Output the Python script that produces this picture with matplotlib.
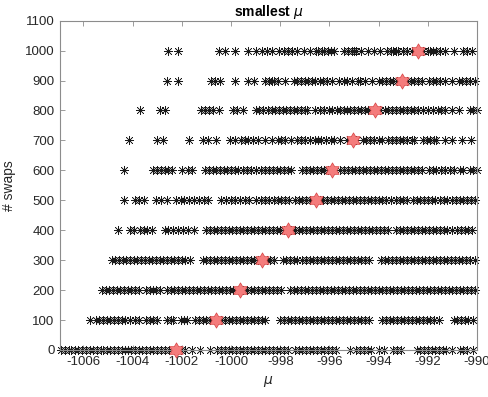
import numpy as np
import matplotlib
matplotlib.use('Agg')
import matplotlib.pyplot as plt
from matplotlib.path import Path

plt.rcParams['font.family'] = ['Liberation Sans', 'DejaVu Sans']
plt.rcParams['axes.unicode_minus'] = False

swaps = [0, 100, 200, 300, 400, 500, 600, 700, 800, 900, 1000]

# mu values found for each swap count
mu_0 = [-1006.9, -1006.75, -1006.6, -1006.5, -1006.35, -1006.2, -1006.05, -1005.9, -1005.75, -1005.6,
        -1005.45, -1005.3, -1005.2, -1005.05, -1004.9, -1004.75, -1004.6, -1004.45, -1004.3, -1004.2,
        -1004.05, -1003.9, -1003.75, -1003.6, -1003.45, -1003.3, -1003.15, -1003.0, -1002.85, -1002.7,
        -1002.5, -1002.05, -1001.85, -1001.6, -1001.25, -1000.85, -1000.55, -1000.4, -1000.25, -1000.1,
        -999.95, -999.8, -999.65, -999.5, -999.35, -999.2, -999.05, -998.9, -998.75, -998.6, -998.45,
        -998.3, -998.15, -998.0, -997.85, -997.7, -997.4, -997.25, -997.1, -996.95, -996.8, -996.65,
        -996.5, -996.35, -996.2, -996.05, -995.9, -995.75, -995.15, -994.9, -994.75, -994.6, -994.45,
        -994.3, -994.0, -993.8, -993.4, -993.25, -993.1, -992.45, -992.3, -992.15, -992.0, -991.85,
        -991.7, -991.55, -991.4, -991.25, -991.0, -990.7, -990.55, -990.4, -990.15]
mu_100 = [-1005.75, -1005.5, -1005.35, -1005.2, -1005.05, -1004.9, -1004.75, -1004.6, -1004.45, -1004.3,
          -1004.1, -1003.9, -1003.75, -1003.45, -1003.3, -1003.15, -1003.0, -1002.6, -1002.45, -1002.35,
          -1002.05, -1001.9, -1001.8, -1001.45, -1001.3, -1001.15, -1001.0, -1000.85, -1000.4, -1000.25,
          -1000.1, -999.95, -999.8, -999.65, -999.5, -999.35, -999.2, -999.05, -998.9, -998.75, -998.6,
          -998.0, -997.85, -997.7, -997.55, -997.4, -997.25, -997.1, -996.95, -996.8, -996.65, -996.5,
          -996.35, -996.2, -996.05, -995.9, -995.75, -995.6, -995.45, -995.3, -995.15, -995.0, -994.85,
          -994.7, -994.55, -994.4, -993.85, -993.7, -993.55, -993.4, -993.25, -993.1, -992.95, -992.8,
          -992.65, -992.5, -992.35, -992.2, -992.05, -991.9, -991.75, -991.55, -990.95, -990.8, -990.65,
          -990.5, -990.35, -990.15]
mu_200 = [-1005.25, -1005.1, -1004.95, -1004.8, -1004.65, -1004.5, -1004.35, -1004.2, -1004.05, -1003.9,
          -1003.75, -1003.45, -1003.3, -1003.15, -1003.05, -1002.9, -1002.6, -1002.45, -1002.3, -1002.15,
          -1002.0, -1001.85, -1001.7, -1001.55, -1001.4, -1001.25, -1001.1, -1000.95, -1000.8, -1000.65,
          -1000.5, -1000.35, -1000.2, -1000.05, -999.9, -999.5, -999.35, -999.2, -999.05, -998.9, -998.75,
          -998.6, -998.45, -998.3, -998.15, -997.95, -997.6, -997.45, -997.3, -997.15, -997.0, -996.85,
          -996.7, -996.55, -996.4, -996.25, -996.1, -995.95, -995.8, -995.65, -995.5, -995.35, -995.2,
          -995.05, -994.9, -994.75, -994.6, -994.45, -994.3, -994.15, -994.0, -993.85, -993.7, -993.55,
          -993.4, -993.25, -993.1, -992.95, -992.8, -992.65, -992.5, -992.35, -992.2, -992.05, -991.9,
          -991.75, -991.6, -991.45, -991.3, -991.15, -991.0, -990.85, -990.7, -990.55, -990.4, -990.25,
          -990.1]
mu_300 = [-1004.85, -1004.7, -1004.55, -1004.4, -1004.25, -1004.1, -1003.95, -1003.8, -1003.65, -1003.5,
          -1003.35, -1003.2, -1003.05, -1002.9, -1002.75, -1002.6, -1002.45, -1002.3, -1002.15, -1002.0,
          -1001.85, -1001.65, -1001.15, -1001.0, -1000.85, -1000.7, -1000.55, -1000.4, -1000.25, -1000.1,
          -999.95, -999.8, -999.65, -999.5, -999.35, -999.2, -999.05, -998.9, -998.55, -998.4, -998.25,
          -997.9, -997.75, -997.6, -997.45, -997.3, -997.1, -996.95, -996.8, -996.65, -996.5, -996.35,
          -996.2, -996.05, -995.9, -995.75, -995.6, -995.45, -995.3, -995.15, -995.0, -994.85, -994.7,
          -994.55, -994.4, -993.9, -993.75, -993.6, -993.45, -993.3, -993.15, -993.0, -992.85, -992.7,
          -992.55, -992.4, -992.25, -992.1, -991.95, -991.8, -991.65, -991.5, -991.35, -991.2, -991.05,
          -990.9, -990.75, -990.6, -990.45, -990.3, -990.1]
mu_400 = [-1004.6, -1004.1, -1003.95, -1003.7, -1003.55, -1003.4, -1003.2, -1002.7, -1002.55, -1002.35,
          -1002.15, -1001.95, -1001.75, -1001.5, -1001.0, -1000.85, -1000.7, -1000.55, -1000.4, -1000.25,
          -1000.1, -999.95, -999.8, -999.65, -999.5, -999.35, -999.2, -999.05, -998.9, -998.75, -998.6,
          -998.45, -998.3, -998.15, -998.0, -997.85, -997.55, -997.4, -997.25, -997.1, -996.95, -996.8,
          -996.65, -996.5, -996.35, -996.2, -996.05, -995.9, -995.75, -995.6, -995.45, -995.3, -995.15,
          -995.0, -994.85, -994.7, -994.55, -994.4, -994.25, -994.1, -993.95, -993.8, -993.6, -993.3,
          -993.15, -993.0, -992.85, -992.7, -992.55, -992.4, -992.25, -992.1, -991.95, -991.8, -991.65,
          -991.5, -991.35, -991.2, -991.0, -990.8, -990.65, -990.5, -990.35, -990.2]
mu_500 = [-1004.35, -1003.9, -1003.75, -1003.55, -1003.05, -1002.85, -1002.6, -1002.25, -1002.05, -1001.9,
          -1001.7, -1001.5, -1001.3, -1001.1, -1000.95, -1000.4, -1000.2, -1000.0, -999.85, -999.65,
          -999.45, -999.25, -999.0, -998.8, -998.6, -998.45, -998.25, -998.1, -997.95, -997.8, -997.65,
          -997.4, -997.25, -997.1, -996.95, -996.8, -996.4, -996.25, -996.1, -995.95, -995.8, -995.65,
          -995.5, -995.35, -995.2, -995.05, -994.9, -994.75, -994.6, -994.45, -994.3, -994.15, -994.0,
          -993.85, -993.7, -993.5, -993.3, -993.15, -993.0, -992.85, -992.6, -992.45, -992.3, -992.15,
          -992.0, -991.85, -991.7, -991.5, -991.35, -991.2, -991.0, -990.85, -990.7, -990.55, -990.4,
          -990.25, -990.1]
mu_600 = [-1004.35, -1003.15, -1003.0, -1002.85, -1002.7, -1002.55, -1002.4, -1002.0, -1001.75, -1001.6,
          -1001.05, -1000.9, -1000.75, -1000.6, -1000.45, -1000.3, -1000.15, -1000.0, -999.85, -999.7,
          -999.5, -999.35, -999.2, -999.0, -998.8, -998.6, -998.45, -998.3, -998.15, -998.0, -997.85,
          -997.7, -997.55, -997.1, -996.95, -996.8, -996.65, -996.5, -996.35, -996.2, -996.05, -995.55,
          -995.4, -995.25, -995.1, -994.95, -994.8, -994.65, -994.5, -994.35, -994.2, -994.05, -993.9,
          -993.75, -993.6, -993.45, -993.3, -993.15, -993.0, -992.85, -992.7, -992.55, -992.4, -992.25,
          -991.95, -991.8, -991.65, -991.45, -991.3, -991.1, -990.95, -990.7, -990.55, -990.3, -990.15,
          -990.0]
mu_700 = [-1004.15, -1003.0, -1002.75, -1001.7, -1001.15, -1000.95, -1000.6, -1000.05, -999.85, -999.6,
          -999.45, -999.3, -999.1, -998.9, -998.6, -998.35, -998.1, -997.95, -997.8, -997.55, -997.3,
          -997.15, -997.0, -996.8, -996.6, -996.45, -996.35, -996.15, -995.95, -995.8, -995.55, -995.3,
          -994.9, -994.65, -994.5, -994.35, -994.2, -994.0, -993.85, -993.6, -993.45, -993.3, -993.15,
          -993.0, -992.85, -992.65, -992.55, -992.2, -992.05, -991.9, -991.75, -991.65, -991.3, -991.0,
          -990.6, -990.25]
mu_800 = [-1003.7, -1002.9, -1002.7, -1001.2, -1001.05, -1000.9, -1000.75, -1000.5, -999.9, -999.75,
          -999.5, -999.0, -998.85, -998.7, -998.5, -998.35, -998.2, -998.05, -997.9, -997.75, -997.6,
          -997.45, -997.3, -997.15, -997.0, -996.9, -996.6, -996.4, -996.2, -996.0, -995.9, -995.7,
          -995.55, -995.4, -995.3, -995.15, -995.0, -994.85, -994.7, -994.55, -994.45, -993.95, -993.75,
          -993.6, -993.45, -993.3, -993.15, -993.0, -992.85, -992.7, -992.55, -992.4, -992.2, -992.0,
          -991.8, -991.6, -991.45, -991.3, -991.0, -990.75, -990.3, -990.15, -990.0]
mu_900 = [-1002.6, -1002.15, -1000.8, -1000.65, -1000.45, -999.85, -999.3, -999.05, -998.6, -998.45,
          -998.35, -998.25, -998.1, -997.8, -997.45, -997.3, -997.15, -997.0, -996.85, -996.7, -996.6,
          -996.4, -996.25, -996.1, -995.9, -995.6, -995.4, -995.3, -995.1, -994.85, -994.75, -994.55,
          -994.25, -994.0, -993.85, -993.7, -993.55, -993.4, -993.25, -992.85, -992.7, -992.55, -992.4,
          -992.25, -991.95, -991.8, -991.65, -991.5, -991.3, -991.0, -990.75, -990.6, -990.45, -990.3,
          -990.1]
mu_1000 = [-1002.55, -1002.15, -1000.5, -1000.25, -999.85, -999.3, -999.0, -998.75, -998.55, -998.35,
           -998.05, -997.85, -997.7, -997.5, -997.3, -997.05, -996.8, -996.55, -996.45, -996.3, -996.2,
           -996.05, -995.95, -995.8, -995.4, -995.25, -995.1, -995.0, -994.9, -994.7, -994.45, -994.2,
           -993.95, -993.65, -993.5, -993.4, -993.3, -993.2, -993.0, -992.85, -992.65, -992.2, -992.0,
           -991.9, -991.8, -991.65, -991.5, -991.3, -990.95, -990.55, -990.4, -990.2]

# smallest mu for each swap count
mu_min = [-1002.25, -1000.6, -999.65, -998.75, -997.7, -996.55, -995.9, -995.05, -994.15, -993.05, -992.4]

all_mu = [mu_0, mu_100, mu_200, mu_300, mu_400, mu_500, mu_600, mu_700, mu_800, mu_900, mu_1000]

# six pointed star, inner radius 1/sqrt(3)
ang = np.pi / 2 + np.arange(12) * np.pi / 6
rad = np.where(np.arange(12) % 2 == 0, 1.0, 1 / np.sqrt(3))
verts = np.column_stack([rad * np.cos(ang), rad * np.sin(ang)])
verts = np.vstack([verts, verts[:1]])
hexagram = Path(verts, [Path.MOVETO] + [Path.LINETO] * 11 + [Path.CLOSEPOLY])

fig = plt.figure(figsize=(4.89, 3.97), dpi=100)
ax = fig.add_axes([0.1227, 0.1184, 0.8528, 0.8296])

for s, mu in zip(swaps, all_mu):
    ax.plot(mu, [s] * len(mu), linestyle='none', marker=(8, 2, 0), markersize=6.5,
            markeredgewidth=0.45, color='#1a1a1a', clip_on=False)

ax.plot(mu_min, swaps, linestyle='none', marker=hexagram, markersize=11,
        markerfacecolor='#f47c7c', markeredgecolor='#d84040', markeredgewidth=0.5,
        clip_on=False, zorder=3)

ax.set_xlim(-1006.95, -990)
ax.set_ylim(0, 1100)
ax.set_xticks(np.arange(-1006, -989, 2))
ax.set_yticks(np.arange(0, 1101, 100))

grey = '#262626'
for sp in ax.spines.values():
    sp.set_color('#8c8c8c')
    sp.set_linewidth(0.8)
ax.tick_params(direction='in', top=True, right=True, length=3.5, width=0.6,
               color='#8c8c8c', labelcolor=grey, labelsize=9.5, pad=4)

ax.set_title(r'smallest $\mu$', fontsize=10, fontweight='bold', color='black', pad=3)
ax.set_xlabel(r'$\mu$', fontsize=10, color=grey, labelpad=5)
ax.set_ylabel('# swaps', fontsize=10, color=grey, labelpad=6)

plt.savefig('out.png', dpi=100)
